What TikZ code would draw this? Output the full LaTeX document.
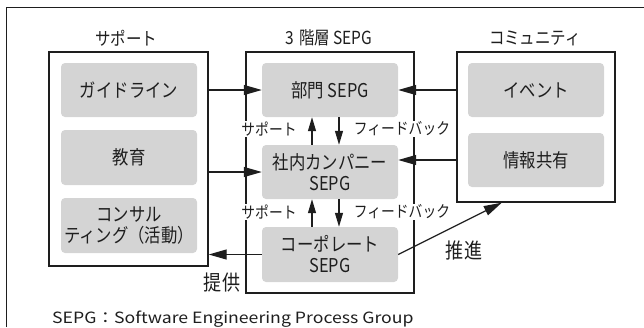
\documentclass[tikz,border=0pt]{standalone}
\usepackage{fontspec}
\setmainfont{Noto Sans CJK JP}[FakeStretch=0.86]
\newfontfamily\plainfont{Noto Sans CJK JP}[FakeStretch=1.14]
\usetikzlibrary{arrows.meta,calc}
\definecolor{boxgray}{RGB}{212,212,212}
\definecolor{ink}{RGB}{30,30,30}
\begin{document}
\begin{tikzpicture}[x=1pt,y=-1pt,
  every node/.style={text=ink},
  frame/.style={draw=ink, line width=1.4pt, inner sep=0pt},
  gbox/.style={fill=boxgray, rounded corners=4pt, inner sep=0pt, align=center,
    font=\fontsize{19}{21}\selectfont, minimum width=136pt},
  ttl/.style={font=\fontsize{18}{20}\selectfont},
  small/.style={font=\fontsize{16}{18}\selectfont, fill=white, inner sep=1pt},
  big/.style={font=\fontsize{21}{23}\selectfont},
  arr/.style={draw=ink, line width=1.2pt, -{Triangle[length=18pt,width=10pt]}},
  sarr/.style={draw=ink, line width=1.2pt, -{Triangle[length=14pt,width=8pt]}}
]
\useasboundingbox (0,0) rectangle (644,327);
% outer frame (top and left lines only)
\draw[ink, line width=1pt] (6,327) -- (6,7) -- (644,7);

% group frames
\node[frame, minimum width=159pt, minimum height=214pt] (lbox) at (128.5,159) {};
\node[frame, minimum width=168pt, minimum height=241pt] (mbox) at (330,172.5) {};
\node[frame, minimum width=158pt, minimum height=150pt] (rbox) at (536,127) {};

% titles
\node[ttl] (t1) at (126,38) {サポート};
\node[ttl] (t2) at (329,38) {3\hspace{5pt}階層\hspace{3pt}SEPG};
\node[ttl] (t3) at (535,38) {コミュニティ};

% gray boxes
\node[gbox, minimum height=54pt] (guide) at (129,90) {ガイドライン};
\node[gbox, minimum height=55pt] (edu) at (129,157.5) {教育};
\node[gbox, minimum height=55pt] (cons) at (129,225.5) {コンサル\\ティング（活動）};

\node[gbox, minimum height=54pt] (bumon) at (330,90) {部門 SEPG};
\node[gbox, minimum height=54pt] (shanai) at (330,172) {社内カンパニー\\SEPG};
\node[gbox, minimum height=55pt] (corp) at (330,254.5) {コーポレート\\SEPG};

\node[gbox, minimum height=54pt] (event) at (536,90) {イベント};
\node[gbox, minimum height=54pt] (info) at (536,160) {情報共有};

% horizontal arrows
\draw[arr] (lbox.east |- guide) -- (bumon.west);
\draw[arr] (lbox.east |- shanai) -- (shanai.west);
\draw[arr] (corp.west) -- (lbox.east |- corp);
\draw[arr] (rbox.west |- event) -- (bumon.east);
\draw[arr] (rbox.west |- info) -- (shanai.east |- info);
\coordinate (push) at ($(rbox.south west)!0.285!(rbox.south east)$);
\draw[arr] (corp.east) -- (push);

% vertical arrows
\draw[sarr] ([xshift=-18pt]shanai.north) -- ([xshift=-18pt]bumon.south);
\draw[sarr] ([xshift=9pt]bumon.south) -- ([xshift=9pt]shanai.north);
\draw[sarr] ([xshift=-18pt]corp.north) -- ([xshift=-18pt]shanai.south);
\draw[sarr] ([xshift=9pt]shanai.south) -- ([xshift=9pt]corp.north);

% labels
\node[small] (s1) at (269,129) {サポート};
\node[small] (f1) at (402,129) {フィードバック};
\node[small] (s2) at (269,212) {サポート};
\node[small] (f2) at (402,212) {フィードバック};
\node[big] (prov) at (222,283) {提供};
\node[big] (prom) at (464,250) {推進};

% footnote
\node[anchor=base west, inner sep=0pt, font=\plainfont\fontsize{15.5}{17}\selectfont] (note) at (52,323) {SEPG：Software Engineering Process Group};
\end{tikzpicture}
\end{document}
